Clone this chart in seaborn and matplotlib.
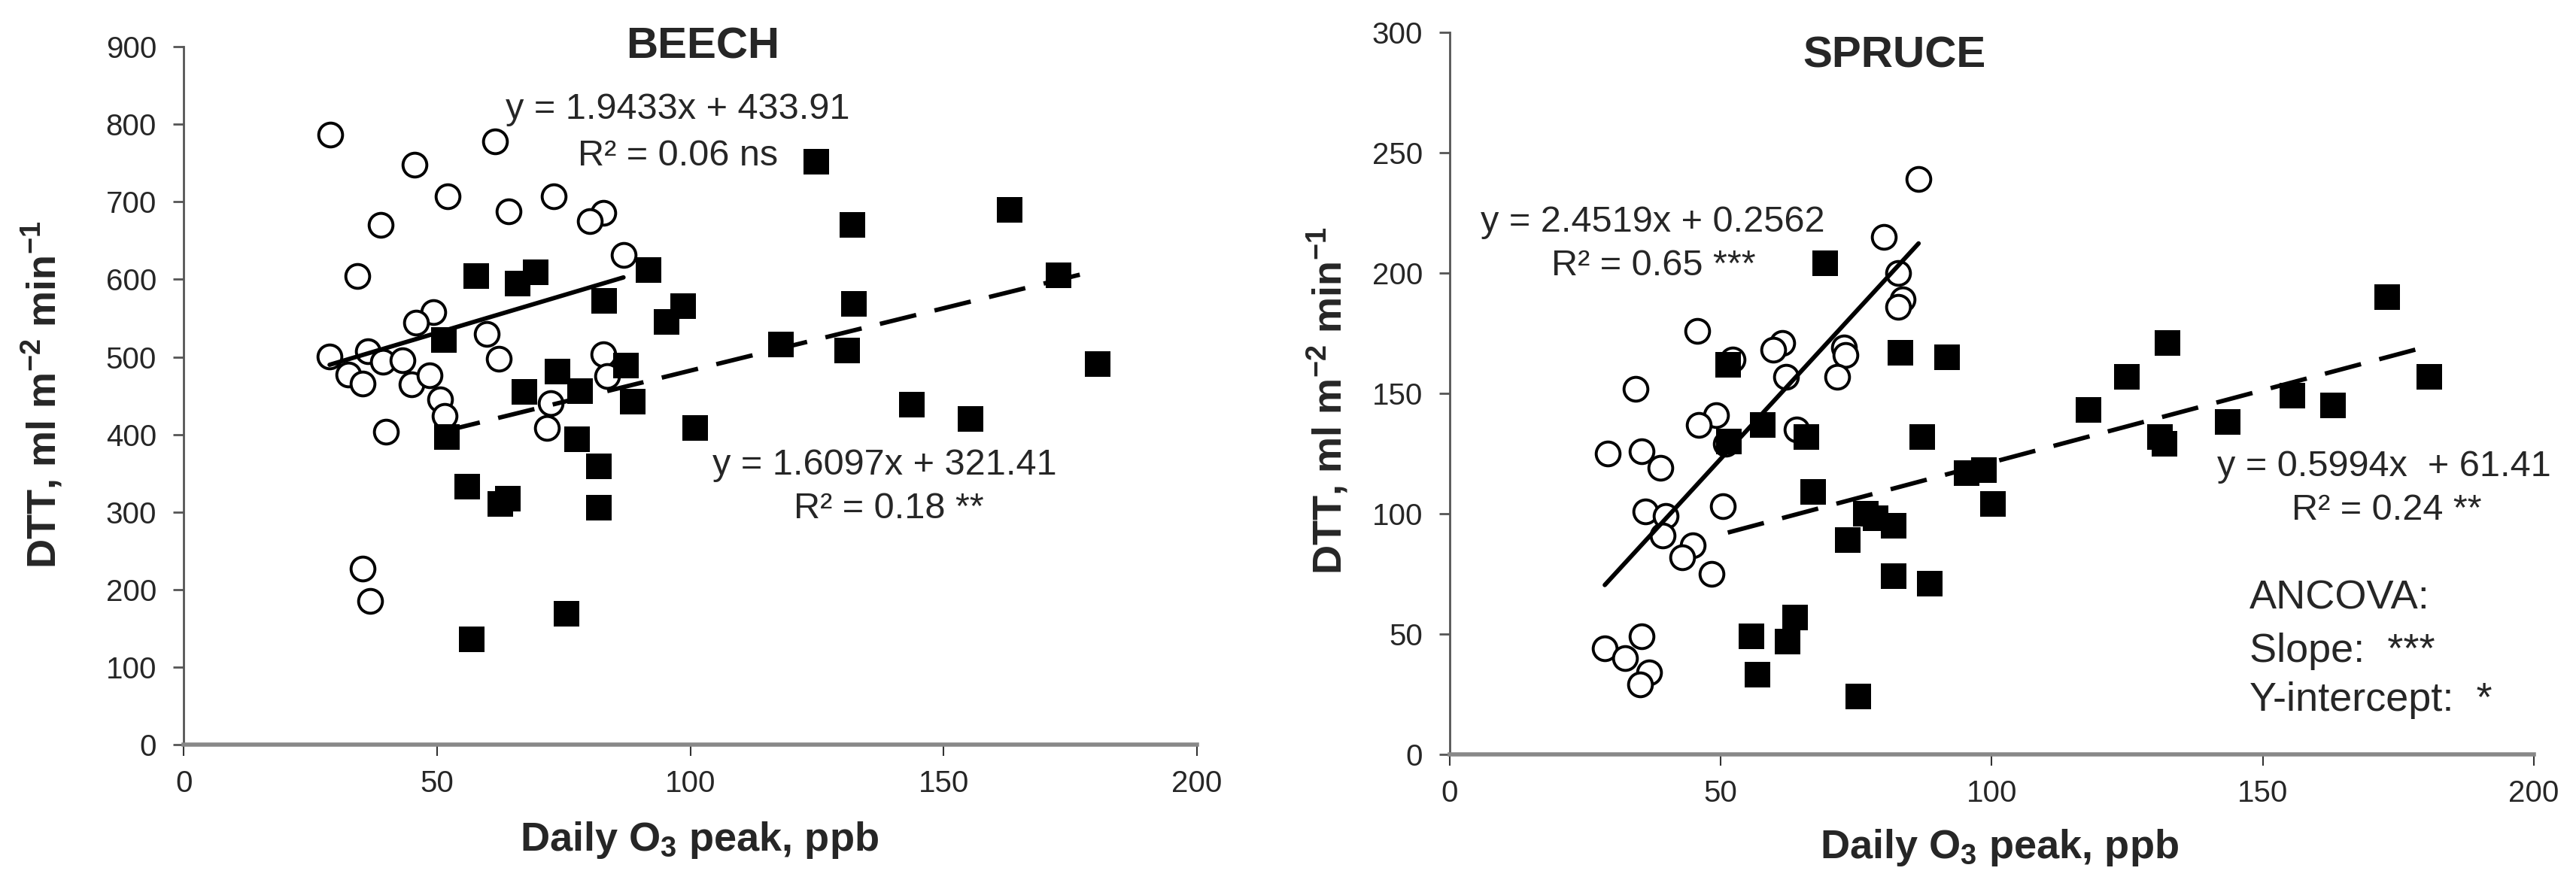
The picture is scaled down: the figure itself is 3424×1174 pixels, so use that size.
import numpy as np
import pandas as pd
import matplotlib
matplotlib.use('Agg')
import matplotlib.pyplot as plt
import seaborn as sns

# BEECH - open circles (ambient) and filled squares (elevated O3)
beech_circle_x = [29.0, 61.4, 45.5, 52.1, 73.0, 64.1, 82.8, 80.1, 38.9, 86.8, 34.3, 49.3, 45.9, 59.8,
                  62.2, 82.8, 28.8, 36.4, 39.4, 43.2, 32.5, 35.3, 45.0, 48.5, 50.6, 51.5, 39.9, 83.5,
                  72.4, 71.7, 35.3, 36.8]
beech_circle_y = [787, 778, 748, 707, 707, 688, 686, 675, 670, 632, 604, 558, 544, 530,
                  498, 503, 501, 507, 494, 496, 477, 466, 465, 476, 445, 424, 404, 475,
                  440, 408, 227, 185]
beech_square_x = [57.7, 65.9, 69.4, 51.3, 83.0, 91.8, 98.5, 95.3, 73.7, 87.3, 67.3, 78.2, 88.6, 51.9,
                  77.6, 101.0, 82.0, 55.9, 64.0, 62.5, 82.0, 75.5, 56.9, 124.8, 163.0, 132.0, 172.7,
                  132.3, 117.8, 131.0, 180.4, 143.7, 155.3]
beech_square_y = [604, 595, 609, 522, 572, 612, 566, 545, 481, 489, 455, 456, 442, 397,
                  394, 408, 359, 333, 317, 310, 306, 169, 136, 752, 690, 670, 605,
                  568, 516, 508, 491, 438, 420]

# SPRUCE
spruce_circle_x = [86.5, 80.1, 82.7, 83.6, 82.7, 45.6, 61.4, 59.7, 72.8, 73.0, 52.2, 62.1, 71.5, 34.3,
                   49.2, 46.0, 64.0, 51.0, 29.2, 35.4, 38.8, 36.1, 39.8, 50.4, 39.3, 44.8, 42.9, 48.3,
                   35.4, 28.6, 32.3, 36.8, 35.1]
spruce_circle_y = [239, 215, 200, 189, 186, 176, 171, 168, 169, 166, 164, 157, 157, 152,
                   141, 137, 135, 129, 125, 126, 119, 101, 99, 103, 91, 87, 82, 75,
                   49, 44, 40, 34, 29]
spruce_square_x = [69.2, 83.2, 91.8, 51.3, 57.7, 51.5, 65.8, 87.1, 67.0, 95.3, 98.6, 100.2, 76.8,
                   78.5, 81.9, 73.4, 81.9, 88.5, 63.7, 55.7, 62.3, 56.8, 75.4, 173.0, 132.4, 124.9,
                   117.8, 180.7, 155.4, 163.0, 143.5, 131.0, 131.8]
spruce_square_y = [204, 167, 165, 162, 137, 130, 132, 132, 109, 117, 118, 104, 100,
                   98, 95, 89, 74, 71, 57, 49, 47, 33, 24, 190, 171, 157,
                   143, 157, 149, 145, 138, 132, 129]

# regression coefficients as printed on the chart
beech_fit = {'circle': (1.9433, 433.91), 'square': (1.6097, 321.41)}
spruce_fit = {'circle': (2.4519, 0.2562), 'square': (0.5994, 61.41)}

sns.set_style('ticks')
plt.rcParams['font.family'] = ['Liberation Sans', 'DejaVu Sans']
plt.rcParams['mathtext.fontset'] = 'custom'
# mathtext only used in the bold axis labels (sub/superscripts)
plt.rcParams['mathtext.rm'] = 'Liberation Sans:bold'
plt.rcParams['mathtext.bf'] = 'Liberation Sans:bold'
plt.rcParams['mathtext.it'] = 'Liberation Sans:bold'

fig = plt.figure(figsize=(34.24, 11.74), dpi=100)
ax1 = fig.add_axes([0.0713, 0.1567, 0.3934, 0.7903])
ax2 = fig.add_axes([0.5628, 0.1457, 0.4208, 0.8175])

TICK_FS = 29
LABEL_FS = 39
EQ_FS = 35


def draw_panel(ax, cx, cy, sx, sy, fits, ymax, ystep):
    circ = pd.DataFrame({'x': cx, 'y': cy})
    sq = pd.DataFrame({'x': sx, 'y': sy})
    sns.scatterplot(data=circ, x='x', y='y', ax=ax, marker='o', s=520, color='white',
                    edgecolor='black', linewidth=2.8, zorder=3)
    sns.scatterplot(data=sq, x='x', y='y', ax=ax, marker='s', s=600, color='black',
                    edgecolor='black', linewidth=0, zorder=3)
    # trendlines over the range of each series
    m, b = fits['circle']
    xs = np.array([min(cx), max(cx)])
    sns.lineplot(x=xs, y=m * xs + b, ax=ax, color='black', linewidth=4.2, zorder=4)
    m, b = fits['square']
    xs = np.array([min(sx), max(sx)])
    ln = sns.lineplot(x=xs, y=m * xs + b, ax=ax, color='black', linewidth=4.2, zorder=4)
    ln.lines[-1].set_dashes((8.5, 4.3))

    ax.set_xlim(0, 200)
    ax.set_ylim(0, ymax)
    ax.set_xticks(np.arange(0, 201, 50))
    ax.set_yticks(np.arange(0, ymax + 1, ystep))
    for s in ['top', 'right']:
        ax.spines[s].set_visible(False)
    ax.spines['left'].set_color('#555555')
    ax.spines['left'].set_linewidth(2)
    ax.spines['bottom'].set_color('#888888')
    ax.spines['bottom'].set_linewidth(4)
    ax.tick_params(axis='y', direction='out', length=10, width=2, color='#555555',
                   labelsize=TICK_FS, pad=16)
    ax.tick_params(axis='x', direction='out', length=11, width=1.5, color='#333333',
                   labelsize=TICK_FS, pad=13)
    ax.set_xlabel('Daily O$_3$ peak, ppb', fontsize=LABEL_FS, fontweight='bold')
    ax.set_ylabel('DTT, ml m$^{-2}$ min$^{-1}$', fontsize=LABEL_FS, fontweight='bold')


draw_panel(ax1, beech_circle_x, beech_circle_y, beech_square_x, beech_square_y,
           beech_fit, 900, 100)
draw_panel(ax2, spruce_circle_x, spruce_circle_y, spruce_square_x, spruce_square_y,
           spruce_fit, 300, 50)

ax1.xaxis.set_label_coords(0.509, -0.108)
ax1.yaxis.set_label_coords(-0.118, 0.502)
ax2.xaxis.set_label_coords(0.507, -0.101)
ax2.yaxis.set_label_coords(-0.092, 0.49)

# titles
ax1.text(0.512, 1.0, 'BEECH', transform=ax1.transAxes, ha='center', va='center',
         fontsize=42, fontweight='bold')
ax2.text(0.41, 0.967, 'SPRUCE', transform=ax2.transAxes, ha='center', va='center',
         fontsize=42, fontweight='bold')

# equations
ax1.text(97.5, 819, 'y = 1.9433x + 433.91', ha='center', va='center', fontsize=EQ_FS)
ax1.text(97.5, 759, 'R² = 0.06 ns', ha='center', va='center', fontsize=EQ_FS)
ax1.text(138.4, 360, 'y = 1.6097x + 321.41', ha='center', va='center', fontsize=EQ_FS)
ax1.text(139.2, 304, 'R² = 0.18 **', ha='center', va='center', fontsize=EQ_FS)

ax2.text(37.5, 221, 'y = 2.4519x + 0.2562', ha='center', va='center', fontsize=EQ_FS)
ax2.text(37.6, 203, 'R² = 0.65 ***', ha='center', va='center', fontsize=EQ_FS)
ax2.text(172.4, 119.7, 'y = 0.5994x  + 61.41', ha='center', va='center', fontsize=EQ_FS)
ax2.text(172.8, 101.5, 'R² = 0.24 **', ha='center', va='center', fontsize=EQ_FS)

ax2.text(147.5, 65, 'ANCOVA:', ha='left', va='center', fontsize=39)
ax2.text(147.5, 42.8, 'Slope:  ***', ha='left', va='center', fontsize=39)
ax2.text(147.5, 22.5, 'Y-intercept:  *', ha='left', va='center', fontsize=39)

fig.savefig('out.png', dpi=100, facecolor='white')
